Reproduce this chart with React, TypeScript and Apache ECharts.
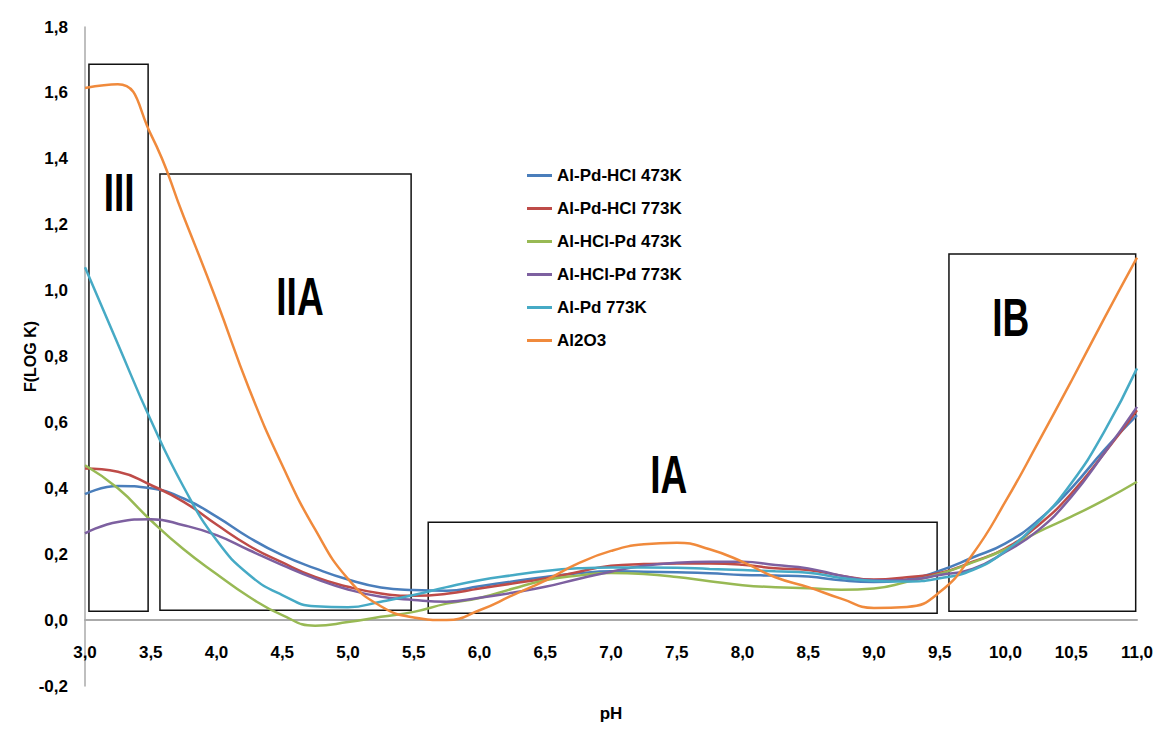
import React, { useEffect, useRef } from "react";
import * as echarts from "echarts";

const pH = [3, 3.25, 3.5, 3.75, 4, 4.25, 4.5, 4.75, 5, 5.25, 5.5, 5.75, 6, 6.25, 6.5, 6.75, 7, 7.25, 7.5, 7.75, 8, 8.25, 8.5, 8.75, 9, 9.25, 9.5, 9.75, 10, 10.25, 10.5, 10.75, 11];

const seriesNames = ["Al-Pd-HCl 473K", "Al-Pd-HCl 773K", "Al-HCl-Pd 473K", "Al-HCl-Pd 773K", "Al-Pd 773K", "Al2O3"];
const seriesColors = ["#4A7EBB", "#BE4B48", "#98B954", "#7D60A0", "#46AAC5", "#F08A3C"];

const alPdHcl473 = [0.382, 0.407, 0.4, 0.369, 0.314, 0.25, 0.197, 0.157, 0.123, 0.099, 0.091, 0.089, 0.103, 0.117, 0.131, 0.142, 0.148, 0.147, 0.145, 0.142, 0.137, 0.135, 0.132, 0.121, 0.116, 0.123, 0.15, 0.19, 0.233, 0.303, 0.4, 0.516, 0.622];
const alPdHcl773 = [0.46, 0.45, 0.41, 0.359, 0.29, 0.225, 0.175, 0.131, 0.101, 0.081, 0.074, 0.08, 0.096, 0.111, 0.126, 0.146, 0.165, 0.17, 0.172, 0.172, 0.168, 0.157, 0.152, 0.135, 0.123, 0.13, 0.143, 0.177, 0.218, 0.288, 0.384, 0.506, 0.637];
const alHclPd473 = [0.47, 0.4, 0.303, 0.215, 0.14, 0.07, 0.015, -0.017, -0.006, 0.01, 0.025, 0.05, 0.067, 0.095, 0.121, 0.135, 0.143, 0.14, 0.131, 0.118, 0.106, 0.1, 0.097, 0.092, 0.096, 0.116, 0.14, 0.175, 0.215, 0.268, 0.314, 0.364, 0.42];
const alHclPd773 = [0.263, 0.298, 0.306, 0.288, 0.258, 0.212, 0.167, 0.126, 0.093, 0.071, 0.061, 0.056, 0.068, 0.083, 0.101, 0.125, 0.147, 0.165, 0.174, 0.177, 0.177, 0.167, 0.157, 0.135, 0.121, 0.122, 0.137, 0.155, 0.207, 0.273, 0.374, 0.506, 0.647];
const alPd773 = [1.071, 0.838, 0.607, 0.404, 0.243, 0.137, 0.076, 0.042, 0.039, 0.056, 0.076, 0.1, 0.121, 0.136, 0.149, 0.157, 0.16, 0.16, 0.159, 0.155, 0.152, 0.148, 0.144, 0.128, 0.119, 0.117, 0.127, 0.152, 0.21, 0.298, 0.415, 0.571, 0.764];
const al2o3 = [1.615, 1.626, 1.475, 1.225, 0.97, 0.7, 0.47, 0.275, 0.125, 0.042, 0.008, 0.0, 0.03, 0.075, 0.12, 0.172, 0.21, 0.23, 0.235, 0.215, 0.177, 0.13, 0.1, 0.065, 0.037, 0.04, 0.085, 0.2, 0.36, 0.54, 0.725, 0.915, 1.1];

const seriesValues = [alPdHcl473, alPdHcl773, alHclPd473, alHclPd773, alPd773, al2o3];

// Annotated regions (data coordinates): [xStart, yStart, xEnd, yEnd]
const regionNames = ["III", "IIA", "IA", "IB"];
const regionBoxes = [
  [3.03, 0.027, 3.48, 1.687],
  [3.57, 0.03, 5.48, 1.354],
  [5.61, 0.021, 9.48, 0.297],
  [9.57, 0.027, 10.99, 1.111],
];
const regionLabelPos = [
  [3.26, 1.296],
  [4.635, 0.98],
  [7.44, 0.44],
  [10.04, 0.917],
];

const FONT = "'Liberation Sans', Arial, sans-serif";
const fmt = (v: number) => v.toFixed(1).replace(".", ",");

export default function App() {
  const ref = useRef<HTMLDivElement>(null);
  useEffect(() => {
    if (!ref.current) return;
    const chart = echarts.init(ref.current, undefined, { renderer: "svg" });
    const lineSeries = seriesNames.map((name, i) => ({
      name,
      type: "line",
      data: pH.map((x, j) => [x, seriesValues[i][j]]),
      smooth: 0.5,
      symbol: "none",
      lineStyle: { color: seriesColors[i], width: 2.5 },
      itemStyle: { color: seriesColors[i] },
      z: 3,
    }));
    const boxSeries = {
      name: "regions",
      type: "line",
      data: [],
      silent: true,
      markArea: {
        silent: true,
        itemStyle: { color: "rgba(0,0,0,0)", borderColor: "#111", borderWidth: 1.5 },
        label: { show: false },
        data: regionBoxes.map((b) => [{ coord: [b[0], b[1]] }, { coord: [b[2], b[3]] }]),
      },
    };
    chart.setOption({
      animation: false,
      backgroundColor: "#fff",
      grid: { left: 85, right: 16, top: 27, bottom: 44, containLabel: false, outerBoundsMode: "none" },
      legend: {
        data: seriesNames.map((n) => ({ name: n, icon: "rect" })),
        orient: "vertical",
        left: 522,
        top: 162,
        itemWidth: 25,
        itemHeight: 3,
        itemGap: 16,
        textStyle: { fontSize: 17, fontWeight: "bold", fontFamily: FONT, color: "#000" },
      },
      xAxis: {
        type: "value",
        min: 3,
        max: 11,
        interval: 0.5,
        name: "pH",
        nameLocation: "middle",
        nameGap: 19,
        nameMoveOverlap: false,
        nameTextStyle: { fontSize: 17, fontWeight: "bold", fontFamily: FONT, color: "#000" },
        axisLine: { onZero: true, lineStyle: { color: "#aaa", width: 2 } },
        axisTick: { show: false },
        splitLine: { show: false },
        axisLabel: {
          formatter: fmt,
          margin: -42,
          fontSize: 17,
          fontWeight: "bold",
          fontFamily: FONT,
          color: "#000",
        },
      },
      yAxis: {
        type: "value",
        min: -0.2,
        max: 1.8,
        interval: 0.2,
        name: "F(LOG K)",
        nameLocation: "middle",
        nameGap: 47,
        nameMoveOverlap: false,
        nameRotate: 90,
        nameTextStyle: { fontSize: 16, fontWeight: "bold", fontFamily: FONT, color: "#000" },
        axisLine: { show: true, onZero: false, lineStyle: { color: "#aaa", width: 1.5 } },
        axisTick: { show: false },
        splitLine: { show: false },
        axisLabel: {
          formatter: fmt,
          margin: 17,
          fontSize: 17,
          fontWeight: "bold",
          fontFamily: FONT,
          color: "#000",
        },
      },
      series: [...lineSeries, boxSeries],
    });
    const labels = regionNames.map((n, i) => {
      const p = chart.convertToPixel({ gridIndex: 0 }, regionLabelPos[i]) as number[];
      return {
        type: "text",
        x: p[0],
        y: p[1],
        scaleX: 0.7,
        silent: true,
        z: 10,
        style: {
          text: n,
          fontSize: 53,
          fontWeight: "bold",
          fontFamily: FONT,
          fill: "#000",
          align: "center",
          verticalAlign: "middle",
        },
      };
    });
    chart.setOption({ graphic: labels });
    return () => chart.dispose();
  }, []);
  return (
    <div
      ref={ref}
      style={{ position: "fixed", left: 0, top: 0, width: 1153, height: 730, background: "#fff" }}
    />
  );
}
